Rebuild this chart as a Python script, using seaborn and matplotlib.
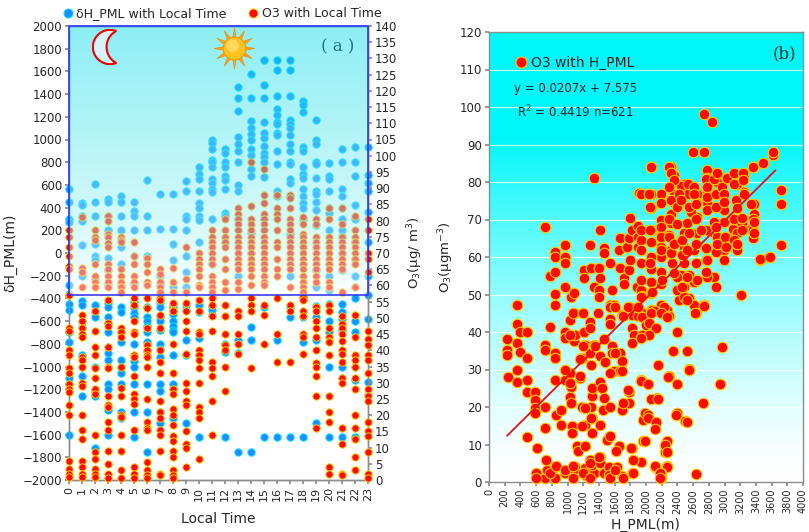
"""
plot.py - PML height change / O3 vs local time (a) and O3 vs H_PML (b).
"""
import numpy as np
import pandas as pd
import matplotlib
matplotlib.use("Agg")
import matplotlib.pyplot as plt
from matplotlib.patches import Rectangle, Circle, Polygon
from matplotlib.lines import Line2D
import seaborn as sns

# ---------------- panel (a) data: one list per local hour ----------------
hours = list(range(24))

dh_pml = [
    [560, 450, 300, 270, -280, -360, -450, -500, -700, -780, -1100, -1150, -1600],
    [440, 420, 330, 280, 70, -200, -420, -460, -600, -650, -900, -1000, -1080, -1260],
    [610, 450, 330, 80, -30, -60, -230, -460, -520, -560, -1000, -1220, -1260, -1720],
    [480, 450, 330, 200, -40, -150, -280, -440, -480, -560, -620, -700, -830, -880, -940, -1150, -1200, -1380, -1600],
    [500, 450, 330, 200, 50, -100, -280, -480, -520, -700, -780, -940, -1000, -1060, -1150, -1400, -1450],
    [450, 370, 330, 200, -30, -270, -430, -480, -530, -560, -800, -950, -1000, -1150, -1400, -1620],
    [640, 330, 200, -30, -280, -480, -560, -600, -640, -700, -780, -860, -1150, -1400, -1750],
    [520, 210, -200, -280, -350, -430, -480, -560, -600, -680, -800, -850, -920, -1150, -1220, -1400, -1500],
    [520, 210, 80, -60, -300, -450, -480, -540, -600, -640, -680, -700, -900, -1150, -1200, -1450],
    [630, 550, 330, 300, 200, -30, -170, -300, -460, -500, -770, -900, -1500],
    [760, 700, 650, 550, 440, 400, 330, 290, 100, -460, -520, -750, -900, -1620],
    [1000, 970, 920, 820, 800, 760, 650, 620, 560, 540, 300, -100, -470, -500, -550],
    [920, 880, 800, 760, 680, 640, 560, 350, 330, 100, -800, -870, -1620],
    [1460, 1370, 1250, 1020, 960, 900, 800, 600, 550, 300, 200, -200, -770, -880, -1750],
    [1580, 1370, 1160, 1100, 1050, 1000, 920, 860, 740, 680, 180, 0, -650, -770, -1750],
    [1700, 1480, 1370, 1150, 1060, 1010, 940, 880, 850, 800, 670, 300, 200, -480, -1620],
    [1700, 1610, 1380, 1270, 1220, 1150, 1140, 1060, 1040, 900, 780, 550, 500, -770, -1620],
    [1700, 1610, 1380, 1170, 1140, 1100, 1040, 960, 900, 800, 780, 650, 620, 500, 170, -200, -480, -560, -1620],
    [1340, 1300, 1240, 930, 900, 760, 700, 660, 560, 500, 440, 400, 300, 50, -100, -200, -400, -560, -780, -1620],
    [1170, 1000, 960, 800, 780, 660, 550, 520, 450, 380, 250, -150, -300, -470, -560, -770, -1500],
    [790, 680, 650, 550, 400, 350, 200, -100, -200, -330, -450, -600, -700, -1000, -1620],
    [920, 800, 560, 500, 400, 300, 200, 150, 0, -150, -450, -520, -580, -680, -1000, -1100, -1620],
    [930, 800, 680, 420, 300, 100, -50, -200, -300, -400, -600, -700, -1000, -1120, -1620],
    [930, 690, 620, 550, 360, 100, -200, -370, -580, -800, -1140, -1250, -1600],
]

o3_hour = [
    [77, 75, 72, 69, 66, 65, 57, 47, 46, 40, 38.5, 34.5, 33, 29.5, 28, 27, 23, 20, 6, 3.5, 2, 1],
    [81, 65.5, 64, 59.5, 51, 49, 47, 45, 44, 38, 37, 35, 30, 29, 20, 15.5, 12.5, 6, 4, 2, 1],
    [77, 75, 74, 66.5, 63, 61, 59.5, 52, 46, 41, 38.5, 34.5, 31.5, 28, 26.5, 14, 8.5, 6.5, 3.5, 2, 1],
    [81.5, 80, 76, 75, 73, 72, 66.5, 65, 63, 61, 59.5, 55.5, 48.5, 47.5, 41, 35, 34.5, 26, 23, 22.5, 18, 15.5, 9, 5, 2, 0.5],
    [75, 74, 73.5, 65, 63, 61, 59.5, 58, 47, 45.5, 44, 35, 28.5, 26, 20, 19.5, 14, 9, 3, 0.5],
    [73.5, 69, 66.5, 63, 61, 59.5, 56, 54, 49, 45.5, 45, 38.5, 38, 32, 26.5, 25, 23.5, 15.5, 4, 2, 0.5],
    [68.5, 66.5, 64, 61, 60, 56, 53, 47, 41.5, 40, 38.5, 38, 35, 25, 18, 16, 15.5, 5.5, 3, 1.5, 0.5],
    [65, 63.5, 61, 59.5, 58, 56, 55.5, 51, 47, 40, 36.5, 33, 24.5, 21, 19, 15.5, 14, 9, 2, 1.5],
    [65.5, 61, 58, 54.5, 52.5, 52, 42, 33, 28, 26.5, 22, 20, 17, 13.5, 12, 9, 7, 3, 1.5, 0.5],
    [72, 62, 58, 54.5, 52, 49, 46, 39, 30, 27.5, 24.5, 23, 15, 11, 10, 4],
    [70, 68, 66.5, 65, 63, 60, 59.5, 55.5, 52, 45.5, 45, 40, 38.5, 37, 34.5, 30, 22.5, 21, 19, 6.5],
    [77, 75, 73.5, 72, 70, 68, 66.5, 63, 61, 59.5, 58, 56, 54, 50.5, 46, 36.5, 34.5, 32, 24.5, 14],
    [80.5, 77, 75, 73.5, 72, 68, 65, 61, 58.5, 54, 50.5, 45, 41.5, 40, 35, 27.5],
    [84, 82, 80.5, 79, 77, 75, 73.5, 72, 70, 68, 66.5, 65, 61, 59, 52, 50.5, 45, 42, 39],
    [98, 84.5, 80.5, 79, 77, 75, 73.5, 72, 70, 68, 66.5, 65, 63, 60, 56, 54, 52, 34.5],
    [96, 88, 85.5, 82, 80.5, 79, 77, 75, 73.5, 72, 70, 68, 66.5, 65, 63, 61, 60, 54, 51, 42],
    [88, 84, 82, 80.5, 77, 73.5, 72, 68, 65, 63, 56, 45, 36.5],
    [88, 87, 84, 80.5, 79, 77, 75, 73.5, 72, 70, 68, 66.5, 65, 59.5, 54, 52, 36.5],
    [81, 79, 76, 75, 73.5, 72, 70, 68, 66.5, 65, 63, 61, 59.5, 58, 56.5, 55.5, 52, 50.5, 45, 44, 39],
    [80.5, 79, 75, 73.5, 72, 70, 68, 66.5, 65, 63, 61, 53.5, 52, 49, 47, 44, 40, 36, 35, 32, 26, 16],
    [84, 80.5, 75, 73.5, 72, 70, 68, 66.5, 65, 61, 59.5, 54, 52, 47, 44, 43, 42.5, 38.5, 26, 21, 18, 4, 2],
    [84, 79, 75, 73.5, 72, 70, 68, 66.5, 65, 58, 50.5, 48, 47, 45, 43, 40, 39, 36.5, 31.5, 30, 16, 11, 2, 1.5],
    [81.5, 77, 75, 73.5, 72, 70, 68, 66.5, 59.5, 51, 44, 38.5, 37, 35, 31.5, 28, 20, 16, 12.5, 7, 3],
    [80.5, 77, 70, 68, 64, 46, 43.5, 41.5, 38.5, 37, 33, 28, 26, 24.5, 18, 15, 13.5, 8.5, 2, 0.5],
]

# ---------------- panel (b) data: H_PML (m) and O3 (ug m-3) ----------------
hpml_upper = [
    354, 716, 844, 844, 780, 844, 963, 963, 963, 844, 844, 963, 1048, 1078, 1078, 1206, 1206, 1291,
    1334, 1304, 1397, 1419, 1461, 1461, 1419, 1334, 1397, 1397, 1546, 1568, 1546, 1589, 1653, 1674,
    1674, 1717, 1717, 1760, 1781, 1781, 1802, 1802, 1823, 1900, 1900, 1900, 1908, 1930, 1887, 1930,
    1781, 1696, 1823, 1950, 1930, 1942, 1951,
    2058, 2313, 2356, 2356, 2782, 2782, 2910, 2910, 3038, 3123, 3251, 3165, 3251, 3357, 3485, 3613,
    3613, 2603, 2739, 3719, 3719, 3719, 3570, 3455, 3378, 3378, 3336, 3229, 3208, 3165, 2995, 2995,
    2995, 2995, 2995, 2867, 2867, 2888, 2867, 2888, 2760, 2760, 2760, 2782, 2782, 2654, 2654, 2654,
    2654, 2633, 2612, 2612, 2569, 2526, 2526, 2483, 2441, 2483, 2483, 2441, 2483, 2441, 2548, 2483,
    2420, 2548, 2612, 2739, 2633, 2356, 2356, 2313, 2313, 2292, 2313, 2335, 2186, 2186, 2186, 2186,
    2186, 2186, 2186, 2186, 2186, 2058, 2058, 2058, 2058, 2058, 2058, 2058, 2058, 2058, 1930, 1930,
    1930, 1930, 2271, 2399, 2483, 2399, 2782, 2910, 3123, 3123, 3102, 3208, 3378, 3357, 3357,
    2739, 2846,
    2079, 2079, 2185, 2185, 2185, 2207, 2228, 2292, 2313, 2356, 2292, 2313, 2292, 2292, 2313, 2356,
    2356, 2398, 2398, 2420, 2441, 2462, 2462, 2462, 2526, 2526, 2539, 2526, 2547, 2547, 2611, 2611,
    2633, 2633, 2633, 2645, 2696, 2760, 2773, 2782, 2782, 2773, 2760, 2867, 2888, 2888, 2888, 2901,
    2909, 2973, 2995, 2995, 3003, 3016, 3029, 3122, 3122, 3144, 3156, 3122, 3165, 3122, 3165, 3156,
    3229, 3242, 3242, 3250, 3229, 3335, 3357, 3378, 3378, 3455, 3582, 3357, 2036, 2057, 2057, 2057,
    2066,
]
o3_upper = [
    47.2, 68.1, 61.4, 60, 54.9, 56, 63.2, 60, 58.3, 50.1, 47.2, 52, 49.4, 50.3, 45, 56.5, 54.3, 63.2,
    81.0, 57, 57, 67.2, 62.3, 61.1, 54.3, 52, 51.2, 49.4, 58.3, 51.2, 47.2, 47.2, 62, 65.2,
    57, 54.3, 52.9, 62.7, 65.2, 56.5, 70.3, 59.2, 67.2, 68.2, 65.4, 62.7, 77.1, 58.3, 52, 51.2,
    46.7, 44.5, 44.5, 45, 64.5, 61.9, 49.5,
    84.1, 84.1, 81.8, 80, 83.2, 81, 81.8, 80, 81, 81.8, 81.8, 79.6, 77.4, 84.1, 85.1, 87.2,
    88, 88, 88, 78, 74.1, 63.2, 60.1, 59.2, 74.1, 70.9, 67.4, 69.2, 70.3, 73, 72.5, 69.4,
    64.9, 61.8, 59.2, 69.4, 66.3, 61.4, 54.7, 52.1, 67.2, 62.3, 59.2, 74.3, 76.9, 76.9, 74.3, 70.7,
    66.3, 58.3, 61.8, 53.4, 72.1, 69, 76.9, 79.6, 78.9, 66.3, 62.7, 64.5, 58.3, 55.2, 55.2, 52.1,
    48.5, 49, 47.2, 47.2, 45, 76.9, 74.3, 71.6, 69, 66, 61.8, 58.3, 76.9, 74.3, 69.8, 65.8,
    62.7, 60, 56.1, 52.9, 47.2, 76.9, 73, 67.2, 64.1, 60, 56.9, 53.4, 50.3, 45.8, 76.9, 67.2,
    53.8, 49.4, 45.8, 51.2, 49.4, 54.7, 54.7, 65.4, 65.8, 63.6, 67.6, 50, 71.6, 67.2, 65,
    98.2, 96,
    50.8, 45.9, 68, 65.4, 61.9, 53.9, 46.8, 84, 82.3, 80.5, 78.7, 75.1, 70.1, 65.4, 61, 63.6,
    55.7, 73.4, 68.9, 76.9, 75.1, 64.5, 60.5, 52.1, 48.6, 61.9, 79.6, 54.8, 73.4, 66.3, 78.7, 76.9,
    74.2, 70.1, 63.6, 53.9, 67.1, 80.9, 78.7, 76, 72.5, 59.2, 56.1, 80.9, 76.9, 73.4, 68, 63.6,
    82.3, 78.7, 76.9, 74.7, 65.4, 62.7, 81, 82.3, 79.6, 75.1, 73, 70.1, 66.3, 64.5, 61.9, 63.6,
    67.1, 82.3, 80.5, 76.9, 70.3, 74.2, 70.1, 69.3, 66.3, 59.6, 60, 84, 76.9, 73.4, 67.1, 58.3,
    84,
]

hpml_lower = [
    226, 226, 226, 247, 354, 354, 396, 396, 354, 354, 482, 482, 482, 482, 482, 588, 588, 588, 588,
    609, 716, 716, 716, 716, 780, 844, 844, 844, 852, 920, 920, 971, 971, 971, 971, 1035, 1048,
    1035, 1048, 1078, 1099, 1163, 1185, 1185, 1206, 1227, 1227, 1291, 1304, 1304, 1312, 1312, 1312,
    1312, 1334, 1419, 1419, 1419, 1440, 1461, 1448, 1482, 1461, 1525, 1546, 1568, 1568, 1589, 1653,
    1674, 1674, 1696, 1696, 1781, 1781, 1823, 1823, 1844, 1823, 1930,
    1031, 1073, 1201, 1287, 1287, 1393, 1542, 1542, 1542, 1606, 1712, 1776, 1904, 1904, 2053, 2117,
    2288, 2628, 2735, 1031, 967, 1159, 1159, 1499, 1542, 1542, 1606, 1691, 1691, 1712, 1776, 1968,
    1968, 1990, 2139, 2245, 2245, 2267, 2288, 2394, 2542, 2500, 2948, 1031, 1053, 1053, 1116, 1137,
    1180, 1201, 1223, 1223, 1299, 1350,
    2390, 2347, 2518, 2965, 2156, 2548, 2284, 2399, 2940, 1930, 2024, 2058, 2156, 2731, 2024, 2024,
    2122, 2109, 2377, 2518, 1981, 2271, 2237, 2262, 2109, 2271, 2194, 2194, 2633,
    1951, 2058, 2186, 2271, 1994, 2036, 2122, 1951, 2036, 1930,
    609, 716, 843, 737, 843, 971, 1099, 1099, 1227, 1227, 1333, 1312, 1419, 1419, 1461, 1525, 1525,
    1632, 1696, 1823, 1930, 596, 596, 724, 775, 852, 967, 1073, 1073, 1201, 1287, 1287, 1287, 1406,
    1542, 1606, 1619, 1712, 1810, 1840, 1840, 2117, 2181, 2181,
]
o3_lower = [
    38.1, 35.1, 33.9, 27.9, 42.1, 37, 40.1, 34.8, 29.9, 26.8, 40.1, 33, 27.1, 24.1, 12.1, 24.1, 21.9,
    19.7, 18.3, 9, 36.6, 35.2, 20.1, 14.3, 41.3, 34.3, 33, 27.2, 17.9, 19.2, 15.2, 40.1, 38.3, 29.9,
    27.2, 29, 25.3, 22.8, 21.2, 37.5, 39.2, 27.7, 33, 20.1, 40.1, 36.6, 15.2, 34.3, 31.2, 20.1, 23,
    25, 17, 13, 36.6, 33.5, 26.8, 15.2, 25, 22.3, 19.2, 32.1, 38.1, 12.1, 20.1, 36.3, 34.3, 29.5,
    9.5, 34.3, 29.5, 19.2, 32.1, 24.1, 21.2, 9, 41, 39.2, 37, 27.2,
    43.3, 45.2, 45, 42.8, 41, 45, 46.8, 43.5, 42.2, 46.8, 44.4, 46.8, 44.2, 46.8, 42, 45.5,
    44.4, 45, 47, 39.3, 30, 28.2, 32.8, 11.3, 12.2, 29, 34.4, 32.2, 29.5, 21, 24.6, 16.6,
    11, 18.4, 22.4, 10, 8, 4.4, 28.2, 18.4, 30.1, 16.2, 26.2, 26.4, 15, 13, 9.5, 8.2,
    15, 36.2, 19.7, 9.5, 17, 36.2,
    39.9, 35, 35, 36.1, 31.1, 29.9, 27.9, 26.2, 26.2, 27, 26.2, 22.1, 22.1, 21, 17.9, 17,
    16.1, 14.1, 17.9, 16.1, 11, 11, 9.9, 7.9, 4.1, 4.1, 2.3, 1, 2.1,
    44.1, 45, 45, 44.1, 41.9, 42.3, 41, 39.2, 39.2, 38.3,
    1.9, 1, 1, 3.2, 4.1, 2.3, 4.1, 2.3, 1.9, 3.7, 2.3, 4.6, 6.8, 5.1, 2.3, 4.1, 1.9,
    4.1, 1.5, 2.3, 5.4, 2.4, 1, 6, 2.4, 4.2, 3.3, 4.2, 1, 2.4, 6, 5, 1, 6.8,
    1, 3.3, 8.2, 1, 9, 2.4, 6, 4.2, 2.4, 1,
]

fit_slope = 0.0207
fit_intercept = 7.575
fit_x = [230, 3650]

# ---------------- tables ----------------
df_dh = pd.DataFrame(
    [(h, v) for h, vals in zip(hours, dh_pml) for v in vals], columns=["hour", "dh"]
)
df_o3 = pd.DataFrame(
    [(h, v) for h, vals in zip(hours, o3_hour) for v in vals], columns=["hour", "o3"]
)
df_b = pd.DataFrame({"hpml": hpml_upper + hpml_lower, "o3": o3_upper + o3_lower})
df_fit = pd.DataFrame({"hpml": fit_x})
df_fit["o3"] = fit_slope * df_fit["hpml"] + fit_intercept

sns.set_theme(style="white")
plt.rcParams["font.family"] = ["DejaVu Sans"]

BLUE, BLUE_EDGE = "#1e8cff", "#00e0ff"
RED, RED_EDGE = "#ff0a00", "#ffcc00"
GRAY = "#8c8c8c"

fig = plt.figure(figsize=(8.09, 5.32), dpi=100)
W, H = 809, 532

def px_axes(x0, y0, x1, y1):
    return fig.add_axes([x0 / W, 1 - y1 / H, (x1 - x0) / W, (y1 - y0) / H])

# ================= panel (a) =================
ax1 = px_axes(69, 26, 368, 480)
ax2 = ax1.twinx()

sns.scatterplot(data=df_dh, x="hour", y="dh", ax=ax1, color=BLUE, edgecolor=BLUE_EDGE,
                linewidth=0.7, s=28, clip_on=False, zorder=3, legend=False)
sns.scatterplot(data=df_o3, x="hour", y="o3", ax=ax2, color=RED, edgecolor=RED_EDGE,
                linewidth=0.7, s=28, clip_on=False, zorder=3, legend=False)

ax1.set_xlim(0, 23)
ax1.set_ylim(-2000, 2000)
ax2.set_ylim(0, 140)
ax1.set_xticks(hours)
ax1.set_xticklabels([str(h) for h in hours], rotation=90, fontsize=8)
ax1.set_yticks(np.arange(-2000, 2001, 200))
ax2.set_yticks(np.arange(0, 141, 5))
ax1.tick_params(axis="y", labelsize=8.5, length=3, color=GRAY, pad=2, direction="out", left=True)
ax1.tick_params(axis="x", length=3, color=GRAY, pad=2, direction="out", bottom=True)
ax2.tick_params(axis="y", labelsize=8.5, length=3, color=GRAY, pad=2, direction="out", right=True)
ax1.set_xlabel("Local Time", fontsize=10, labelpad=8)
ax1.set_ylabel("δH_PML(m)", fontsize=10, labelpad=4)
ax2.set_ylabel("O$_3$(μg/ m$^3$)", fontsize=9.5, labelpad=6)
for a in (ax1, ax2):
    for sp in a.spines.values():
        sp.set_color(GRAY)
        sp.set_linewidth(1)

# translucent gradient box over the upper region
box_low = 57.05
grad_t = np.linspace(0, 1, 256) ** 0.8
box_rgba = np.zeros((256, 1, 4))
box_rgba[:, 0, 0] = 1 - grad_t
box_rgba[:, 0, 1] = 1 - grad_t * 0.14
box_rgba[:, 0, 2] = 1 - grad_t * 0.10
box_rgba[:, 0, 3] = 0.45
ax2.imshow(box_rgba, extent=[0, 23, box_low, 140], origin="lower", aspect="auto",
           zorder=5, interpolation="bilinear")
ax2.add_patch(Rectangle((0, box_low), 23, 140 - box_low, fill=False, edgecolor="#2a2aff",
                        linewidth=1.1, zorder=6, clip_on=False))
ax2.set_xlim(0, 23)
ax2.set_ylim(0, 140)

ax1.text(0.90, 0.955, "( a )", transform=ax1.transAxes, fontsize=12, family="DejaVu Serif",
         ha="center", va="center", zorder=8)

# legend above panel (a)
h_blue = Line2D([], [], ls="", marker="o", ms=6.5, mfc=BLUE, mec=BLUE_EDGE, mew=0.7)
h_red = Line2D([], [], ls="", marker="o", ms=6.5, mfc=RED, mec=RED_EDGE, mew=0.7)
fig.legend([h_blue, h_red], ["δH_PML with Local Time", "O3 with Local Time"],
           loc="upper left", bbox_to_anchor=(50 / W, 1 + 4 / H), ncol=2, frameon=False,
           fontsize=9, handletextpad=0.2, columnspacing=1.6, handlelength=1.0)

# moon: crescent built from two circles
ax_moon = px_axes(92, 29, 128, 65)
ax_moon.set_xlim(-1.05, 1.05)
ax_moon.set_ylim(-1.05, 1.05)
ax_moon.set_aspect("equal")
ax_moon.axis("off")
d_in, r_in = 0.85, 1.05
tip_x = (1 - r_in ** 2 + d_in ** 2) / (2 * d_in)
tip_y = np.sqrt(1 - tip_x ** 2)
a0 = np.arctan2(tip_y, tip_x)
outer = np.linspace(a0, 2 * np.pi - a0, 60)
b0 = np.arctan2(tip_y, tip_x - d_in)
inner = np.linspace(2 * np.pi - b0, b0, 60)
moon_pts = np.vstack([np.c_[np.cos(outer), np.sin(outer)],
                      np.c_[d_in + r_in * np.cos(inner), r_in * np.sin(inner)]])
ax_moon.add_patch(Polygon(moon_pts, closed=True, facecolor="#d6f3fb", edgecolor="#ee0000", lw=1.5))

# sun
ax_sun = px_axes(213, 27, 256, 70)
ax_sun.set_xlim(-1.1, 1.1)
ax_sun.set_ylim(-1.1, 1.1)
ax_sun.set_aspect("equal")
ax_sun.axis("off")
for k in range(12):
    ang = np.pi * k / 6
    half = np.deg2rad(9)
    pts = [(0.56 * np.cos(ang - half), 0.56 * np.sin(ang - half)),
           (1.04 * np.cos(ang), 1.04 * np.sin(ang)),
           (0.56 * np.cos(ang + half), 0.56 * np.sin(ang + half))]
    ax_sun.add_patch(Polygon(pts, closed=True, facecolor="#ffa31a", edgecolor="#f08c00", lw=0.5))
ax_sun.add_patch(Circle((0, 0), 0.58, facecolor="#ffc21f", edgecolor="#f29b00", lw=0.8))
ax_sun.add_patch(Circle((-0.1, 0.14), 0.32, facecolor="#ffe27a", edgecolor="none", alpha=0.7))

# ================= panel (b) =================
axb = px_axes(489, 32, 803, 482)
ygrid = np.linspace(0, 120, 300)
tb = np.clip(ygrid / 92, 0, 1) ** 1.4
bg = np.zeros((300, 1, 3))
bg[:, 0, 0] = 1 - tb
bg[:, 0, 1] = 1 - tb * 0.03
bg[:, 0, 2] = 1 - tb * 0.02
axb.imshow(bg, extent=[0, 4000, 0, 120], origin="lower", aspect="auto", zorder=0,
           interpolation="bilinear")
for yv in range(10, 120, 10):
    axb.axhline(yv, color="white", lw=0.9, alpha=0.75, zorder=1)

sns.scatterplot(data=df_b, x="hpml", y="o3", ax=axb, color=RED, edgecolor=RED_EDGE,
                linewidth=0.8, s=58, zorder=3, clip_on=False, legend=False)
sns.lineplot(data=df_fit, x="hpml", y="o3", ax=axb, color="#e8101a", lw=1.3, zorder=4)

axb.set_xlim(0, 4000)
axb.set_ylim(0, 120)
axb.set_xticks(np.arange(0, 4001, 200))
axb.set_xticklabels([str(v) for v in range(0, 4001, 200)], rotation=90, fontsize=7)
axb.set_yticks(np.arange(0, 121, 10))
axb.tick_params(axis="y", labelsize=8.5, length=3, color=GRAY, pad=2, left=True)
axb.tick_params(axis="x", length=3, color=GRAY, pad=2, bottom=True)
axb.set_xlabel("H_PML(m)", fontsize=10, labelpad=3)
axb.set_ylabel("O$_3$(μgm$^{-3}$)", fontsize=9.5, labelpad=3)
for sp in axb.spines.values():
    sp.set_color(GRAY)
    sp.set_linewidth(1)

h_b = Line2D([], [], ls="", marker="o", ms=8, mfc=RED, mec=RED_EDGE, mew=0.8)
axb.legend([h_b], ["O3 with H_PML"], loc="upper left", bbox_to_anchor=(0.04, 0.975),
           frameon=False, fontsize=10, handletextpad=0.2, handlelength=1.0)
axb.text(0.275, 0.875, "y = 0.0207x + 7.575", transform=axb.transAxes, fontsize=8.5,
         ha="center", va="center")
axb.text(0.275, 0.823, "R$^2$ = 0.4419 n=621", transform=axb.transAxes, fontsize=8.5,
         ha="center", va="center")
axb.text(0.94, 0.952, "(b)", transform=axb.transAxes, fontsize=12, family="DejaVu Serif",
         ha="center", va="center")

fig.savefig("out.png", dpi=100)
